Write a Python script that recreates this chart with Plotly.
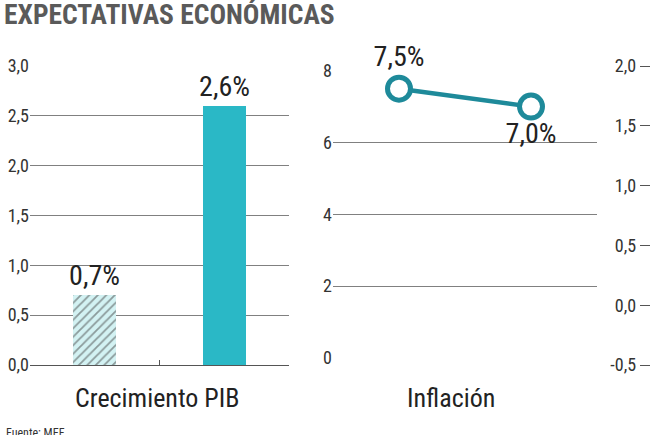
import plotly.graph_objects as go

# ---- data ----
title_text = "EXPECTATIVAS ECONÓMICAS"
source_text = "Fuente: MEF"

gdp_categories = ["Anterior", "Actual"]
gdp_values = [0.7, 2.6]
gdp_label = "Crecimiento PIB"

infl_categories = ["Anterior", "Actual"]
infl_values = [7.5, 7.0]
infl_label = "Inflación"

gdp_ticks = [0, 0.5, 1.0, 1.5, 2.0, 2.5, 3.0]
infl_ticks = [0, 2, 4, 6, 8]
right_ticks = [-0.5, 0.0, 0.5, 1.0, 1.5, 2.0]
right_ticktext = ["-0,5", "0,0", "0,5", "1,0", "1,5", "2,0"]

# ---- style ----
W, H = 651, 435
FONT = "Roboto Condensed, Liberation Sans Narrow, DejaVu Sans Condensed, sans-serif"
GRID = "#808080"
TXT = "#333333"
TEAL = "#2ab8c6"
TEAL_DARK = "#1e8a9a"
HATCH_BG = "#d3f2f3"
HATCH_FG = "#24857f"


def fx(p):
    return p / W


def fy(p):
    return 1 - p / H


fig = go.Figure()

fig.add_trace(go.Bar(
    x=gdp_categories, y=gdp_values, xaxis="x", yaxis="y",
    width=0.33,
    marker=dict(
        color=[HATCH_BG, TEAL],
        line=dict(width=0),
        pattern=dict(shape=["/", ""], fgcolor=HATCH_FG, bgcolor=[HATCH_BG, TEAL],
                     size=6, solidity=0.3),
    ),
    texttemplate="%{y:.1f}%", textposition="outside", constraintext="none",
    textfont=dict(size=28, color="#222222", family=FONT),
    cliponaxis=False, showlegend=False, hoverinfo="skip",
))

fig.add_trace(go.Scatter(
    x=infl_categories, y=infl_values, xaxis="x2", yaxis="y2",
    mode="lines+markers+text",
    line=dict(color=TEAL_DARK, width=4.5),
    marker=dict(size=23, color="white", line=dict(color=TEAL_DARK, width=5)),
    texttemplate="%{y:.1f}%", textposition=["top center", "bottom center"],
    textfont=dict(size=28, color="#222222", family=FONT),
    cliponaxis=False, showlegend=False, hoverinfo="skip",
))

# empty trace to carry the right-hand free axis
fig.add_trace(go.Scatter(x=[], y=[], xaxis="x", yaxis="y3", showlegend=False, hoverinfo="skip"))

fig.update_layout(
    width=W, height=H,
    margin=dict(l=0, r=0, t=0, b=0, autoexpand=False),
    paper_bgcolor="white", plot_bgcolor="white",
    separators=", ",
    font=dict(family=FONT, color=TXT, size=18),
    bargap=0,
    xaxis=dict(
        domain=[fx(30), fx(289)], type="category", range=[-0.5, 1.5],
        showticklabels=False, tickson="boundaries", ticks="inside", ticklen=5,
        tickcolor="#555555", showline=True, linecolor="#555555", linewidth=1,
        showgrid=False, zeroline=False, anchor="y", automargin=False,
    ),
    yaxis=dict(
        domain=[fy(365), fy(66)], range=[0, 3], tickvals=gdp_ticks, tickformat=".1f",
        showgrid=True, gridcolor=GRID, gridwidth=1, zeroline=False, ticks="",
        tickfont=dict(size=18, color=TXT), anchor="x", automargin=False,
    ),
    xaxis2=dict(
        domain=[fx(333), fx(597)], type="category", range=[-0.5, 1.5],
        visible=False, anchor="y2", automargin=False,
    ),
    yaxis2=dict(
        domain=[fy(358), fy(70.7)], range=[0, 8], tickvals=infl_ticks,
        showgrid=True, gridcolor=GRID, gridwidth=1, zeroline=False, ticks="",
        tickfont=dict(size=18, color=TXT), anchor="x2", automargin=False,
    ),
    yaxis3=dict(
        overlaying="y", anchor="free", position=0.998, side="left",
        range=[-0.5, 2.0], tickvals=right_ticks, ticktext=right_ticktext,
        ticks="outside", ticklen=10, tickwidth=1.2, tickcolor="#555555", showgrid=False,
        showline=False, zeroline=False, tickfont=dict(size=18, color=TXT),
        automargin=False,
    ),
    annotations=[
        dict(text=title_text, x=0.003, y=fy(15), xref="paper", yref="paper",
             xanchor="left", yanchor="middle", showarrow=False,
             font=dict(size=27.5, color="#5a5a5a", family=FONT, weight="bold")),
        dict(text=gdp_label, x=fx(157), y=fy(398), xref="paper", yref="paper",
             xanchor="center", yanchor="middle", showarrow=False,
             font=dict(size=26, color="#222222", family=FONT)),
        dict(text=infl_label, x=fx(451), y=fy(398), xref="paper", yref="paper",
             xanchor="center", yanchor="middle", showarrow=False,
             font=dict(size=26, color="#222222", family=FONT)),
        dict(text=source_text, x=fx(4), y=fy(433), xref="paper", yref="paper",
             xanchor="left", yanchor="middle", showarrow=False,
             font=dict(size=12, color=TXT, family=FONT)),
    ],
)

fig.write_html(
    "out.html",
    config={"displayModeBar": False},
    post_script="document.body.style.margin='0';document.body.style.overflow='hidden';",
)
